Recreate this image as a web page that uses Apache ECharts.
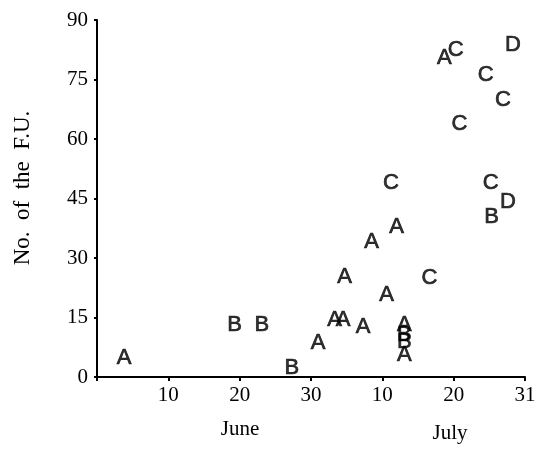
<!DOCTYPE html>
<html>
<head>
<meta charset="utf-8">
<script src="https://cdn.jsdelivr.net/npm/echarts@6/dist/echarts.min.js"></script>
<style>html,body{margin:0;padding:0;background:#fff;}#c{width:542px;height:449px;}</style>
</head>
<body>
<div id="c"></div>
<script>
// x position: days counted from 31 May along the date axis (July d -> 30 + d)
var xTickValues = [0, 10, 20, 30, 40, 50, 60];
var xTickLabels = ['', '10', '20', '30', '10', '20', '31'];
var yTicks = [0, 15, 30, 45, 60, 75, 90];
var monthLabels = ['June', 'July'];
var yTitle = 'No.  of  the  F.U.';

var seriesNames = ['A', 'B', 'C', 'D'];
var aDays   = [3.8, 31.0, 33.3, 34.5, 37.3, 34.7, 38.5, 40.6, 42.0, 43.1, 43.1, 48.7];
var aCounts = [4.8, 8.6, 14.4, 14.4, 12.6, 25.2, 34.0, 20.7, 37.8, 13.1, 5.5, 80.4];
var bDays   = [19.3, 23.1, 27.3, 43.1, 43.1, 55.3];
var bCounts = [13.1, 13.1, 2.3, 10.6, 8.8, 40.3];
var cDays   = [41.2, 46.6, 50.3, 54.5, 56.9, 50.8, 55.2];
var cCounts = [48.9, 24.9, 82.4, 76.1, 69.8, 63.7, 48.9];
var dDays   = [58.3, 57.6];
var dCounts = [83.6, 44.1];

function pairs(xs, ys) { return xs.map(function (x, i) { return [x, ys[i]]; }); }
var allData = [pairs(aDays, aCounts), pairs(bDays, bCounts), pairs(cDays, cCounts), pairs(dDays, dCounts)];

var serif = '"Liberation Serif", "DejaVu Serif", serif';
var chart = echarts.init(document.getElementById('c'), null, {renderer: 'canvas'});
chart.setOption({
  backgroundColor: '#ffffff',
  animation: false,
  grid: {left: 97, right: 17, top: 20, bottom: 72},
  xAxis: {
    type: 'value', min: 0, max: 60, interval: 10,
    splitLine: {show: false},
    axisLine: {show: true, lineStyle: {color: '#000', width: 2}},
    axisTick: {show: true, length: 4, lineStyle: {color: '#000', width: 2}},
    axisLabel: {
      color: '#000', fontFamily: serif, fontSize: 21, margin: 8,
      formatter: function (v) { var i = xTickValues.indexOf(v); return i >= 0 ? xTickLabels[i] : ''; }
    }
  },
  yAxis: {
    type: 'value', min: 0, max: 90, interval: 15,
    splitLine: {show: false},
    axisLine: {show: true, lineStyle: {color: '#000', width: 2}},
    axisTick: {show: true, length: 3, lineStyle: {color: '#000', width: 2}},
    axisLabel: {
      color: '#000', fontFamily: serif, fontSize: 21, margin: 9,
      formatter: function (v) { return yTicks.indexOf(v) >= 0 ? String(v) : ''; }
    }
  },
  graphic: [
    {type: 'text', x: 240, y: 429, style: {text: monthLabels[0], font: '21px ' + serif, fill: '#000', align: 'center', verticalAlign: 'middle'}},
    {type: 'text', x: 450, y: 433, style: {text: monthLabels[1], font: '21px ' + serif, fill: '#000', align: 'center', verticalAlign: 'middle'}},
    {type: 'text', x: 23, y: 188, rotation: Math.PI / 2,
     style: {text: yTitle, font: '23px ' + serif, fill: '#000', align: 'center', verticalAlign: 'middle'}}
  ],
  series: seriesNames.map(function (name, i) {
    return {
      type: 'scatter', name: name, data: allData[i],
      symbol: 'circle', symbolSize: 1,
      itemStyle: {color: 'rgba(0,0,0,0)'},
      label: {
        show: true, position: 'inside', formatter: name,
        color: '#000', fontFamily: '"Liberation Sans", Arial, sans-serif', fontSize: 22,
        textBorderColor: '#000', textBorderWidth: 0.7
      }
    };
  })
});
</script>
</body>
</html>
